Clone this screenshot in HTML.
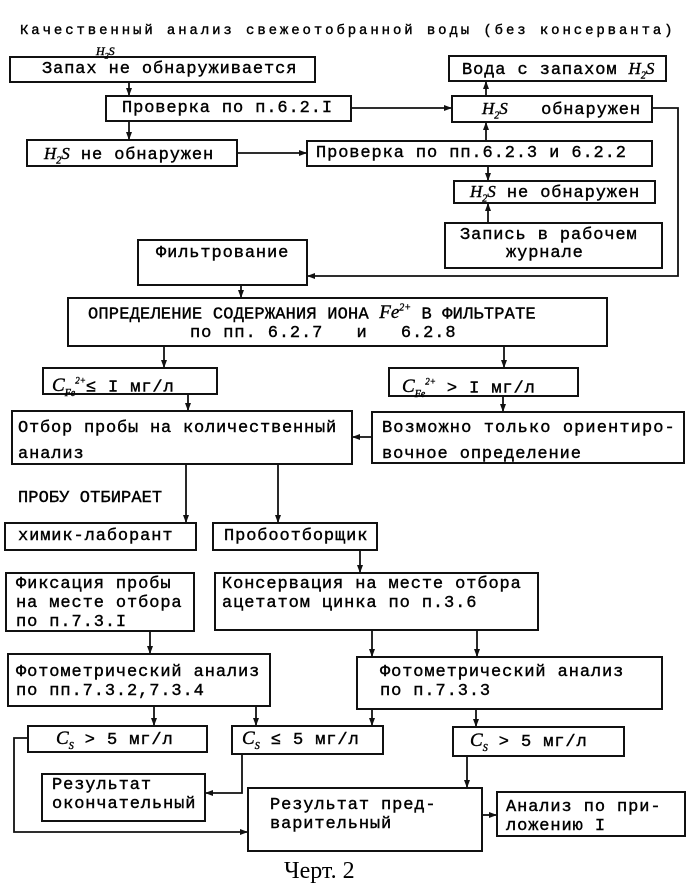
<!DOCTYPE html>
<html><head><meta charset="utf-8"><style>
body{margin:0;background:#fff;}
#c{position:relative;width:688px;height:892px;overflow:hidden;background:#fff;font-family:"Liberation Mono",monospace;color:#000;}
.b{position:absolute;border:2px solid #111;box-sizing:border-box;}
.t{position:absolute;font-size:17px;letter-spacing:0.9px;white-space:nowrap;line-height:18px;-webkit-text-stroke:0.4px #000;}
.i{font-family:"Liberation Serif",serif;font-style:italic;letter-spacing:0;}
svg{position:absolute;left:0;top:0;}
</style></head><body><div id="c">
<svg width="688" height="892">
<defs><marker id="a" markerWidth="8" markerHeight="8" refX="7" refY="4" orient="auto" markerUnits="userSpaceOnUse"><path d="M0,1 L8,4 L0,7 Z" fill="#111"/></marker></defs>
<g stroke="#111" stroke-width="1.8" fill="none">
<line x1="129" y1="82" x2="129" y2="95" marker-end="url(#a)"/>
<line x1="129" y1="122" x2="129" y2="139" marker-end="url(#a)"/>
<line x1="352" y1="108" x2="451" y2="108" marker-end="url(#a)"/>
<line x1="486" y1="95" x2="486" y2="82" marker-end="url(#a)"/>
<line x1="486" y1="140" x2="486" y2="123" marker-end="url(#a)"/>
<line x1="238" y1="153" x2="306" y2="153" marker-end="url(#a)"/>
<line x1="488" y1="167" x2="488" y2="180" marker-end="url(#a)"/>
<line x1="488" y1="222" x2="488" y2="204" marker-end="url(#a)"/>
<polyline points="653,108 678,108 678,276 308,276" marker-end="url(#a)"/>
<line x1="241" y1="286" x2="241" y2="297" marker-end="url(#a)"/>
<line x1="164" y1="347" x2="164" y2="367" marker-end="url(#a)"/>
<line x1="504" y1="347" x2="504" y2="367" marker-end="url(#a)"/>
<line x1="188" y1="395" x2="188" y2="410" marker-end="url(#a)"/>
<line x1="503" y1="397" x2="503" y2="411" marker-end="url(#a)"/>
<line x1="371" y1="437" x2="353" y2="437" marker-end="url(#a)"/>
<line x1="186" y1="465" x2="186" y2="522" marker-end="url(#a)"/>
<line x1="278" y1="465" x2="278" y2="522" marker-end="url(#a)"/>
<line x1="360" y1="551" x2="360" y2="572" marker-end="url(#a)"/>
<line x1="150" y1="632" x2="150" y2="653" marker-end="url(#a)"/>
<line x1="372" y1="631" x2="372" y2="656" marker-end="url(#a)"/>
<line x1="477" y1="631" x2="477" y2="656" marker-end="url(#a)"/>
<line x1="154" y1="707" x2="154" y2="725" marker-end="url(#a)"/>
<line x1="256" y1="707" x2="256" y2="725" marker-end="url(#a)"/>
<line x1="372" y1="710" x2="372" y2="725" marker-end="url(#a)"/>
<line x1="476" y1="710" x2="476" y2="726" marker-end="url(#a)"/>
<polyline points="27,738 14,738 14,832 247,832" marker-end="url(#a)"/>
<polyline points="242,755 242,793 206,793" marker-end="url(#a)"/>
<line x1="467" y1="757" x2="467" y2="787" marker-end="url(#a)"/>
<line x1="483" y1="815" x2="496" y2="815" marker-end="url(#a)"/>
</g></svg>
<div class="t" style="left:20px;top:22px;font-size:14px;letter-spacing:2.9px;">Качественный анализ свежеотобранной воды (без консерванта)</div>

<div class="b" style="left:9px;top:56px;width:307px;height:27px;"></div>
<div class="t i" style="left:96px;top:42px;font-size:12px;">H<sub style="font-size:8px">2</sub>S</div>
<div class="t" style="left:42px;top:61px;">Запах не обнаруживается</div>
<div class="b" style="left:448px;top:55px;width:219px;height:27px;"></div>
<div class="t" style="left:462px;top:60px;">Вода с запахом <span class="i">H<sub style="font-size:10px">2</sub>S</span></div>
<div class="b" style="left:105px;top:95px;width:247px;height:27px;"></div>
<div class="t" style="left:122px;top:100px;">Проверка по п.6.2.I</div>
<div class="b" style="left:451px;top:95px;width:202px;height:28px;"></div>
<div class="t" style="left:482px;top:100px;"><span class="i">H<sub style="font-size:10px">2</sub>S</span>&nbsp;&nbsp; обнаружен</div>
<div class="b" style="left:26px;top:139px;width:212px;height:28px;"></div>
<div class="t" style="left:44px;top:145px;"><span class="i">H<sub style="font-size:10px">2</sub>S</span> не обнаружен</div>
<div class="b" style="left:306px;top:140px;width:347px;height:27px;"></div>
<div class="t" style="left:316px;top:145px;">Проверка по пп.6.2.3 и 6.2.2</div>
<div class="b" style="left:453px;top:180px;width:203px;height:24px;"></div>
<div class="t" style="left:470px;top:183px;"><span class="i">H<sub style="font-size:10px">2</sub>S</span> не обнаружен</div>
<div class="b" style="left:444px;top:222px;width:219px;height:47px;"></div>
<div class="t" style="left:460px;top:227px;">Запись в рабочем</div>
<div class="t" style="left:506px;top:245px;">журнале</div>
<div class="b" style="left:137px;top:239px;width:171px;height:47px;"></div>
<div class="t" style="left:156px;top:245px;">Фильтрование</div>
<div class="b" style="left:67px;top:297px;width:541px;height:50px;"></div>
<div class="t" style="left:88px;top:300px;letter-spacing:0.2px;">ОПРЕДЕЛЕНИЕ СОДЕРЖАНИЯ ИОНА <span class="i" style="font-size:19px">Fe<sup style="font-size:10px">2+</sup></span> В ФИЛЬТРАТЕ</div>
<div class="t" style="left:190px;top:325px;">по пп. 6.2.7&nbsp;&nbsp; и&nbsp;&nbsp; 6.2.8</div>
<div class="b" style="left:42px;top:367px;width:176px;height:28px;"></div>
<div class="t" style="left:52px;top:372px;"><span class="i" style="font-size:19px">C<sub style="font-size:10px">Fe</sub><sup style="font-size:9px">2+</sup></span>≤ I мг/л</div>
<div class="b" style="left:388px;top:367px;width:191px;height:30px;"></div>
<div class="t" style="left:402px;top:373px;"><span class="i" style="font-size:19px">C<sub style="font-size:10px">Fe</sub><sup style="font-size:9px">2+</sup></span> &gt; I мг/л</div>
<div class="b" style="left:11px;top:410px;width:342px;height:55px;"></div>
<div class="t" style="left:18px;top:420px;letter-spacing:0.8px;">Отбор пробы на количественный</div>
<div class="t" style="left:18px;top:446px;">анализ</div>
<div class="b" style="left:371px;top:411px;width:314px;height:53px;"></div>
<div class="t" style="left:382px;top:420px;letter-spacing:1.1px;">Возможно только ориентиро-</div>
<div class="t" style="left:382px;top:446px;">вочное определение</div>
<div class="t" style="left:18px;top:490px;letter-spacing:0.1px;">ПРОБУ ОТБИРАЕТ</div>
<div class="b" style="left:4px;top:522px;width:193px;height:29px;"></div>
<div class="t" style="left:18px;top:528px;">химик-лаборант</div>
<div class="b" style="left:212px;top:522px;width:166px;height:29px;"></div>
<div class="t" style="left:224px;top:528px;">Пробоотборщик</div>
<div class="b" style="left:5px;top:572px;width:190px;height:60px;"></div>
<div class="t" style="left:16px;top:575px;line-height:19px;">Фиксация пробы<br>на месте отбора<br>по п.7.3.I</div>
<div class="b" style="left:214px;top:572px;width:325px;height:59px;"></div>
<div class="t" style="left:222px;top:575px;line-height:19px;">Консервация на месте отбора<br>ацетатом цинка по п.3.6</div>
<div class="b" style="left:7px;top:653px;width:264px;height:54px;"></div>
<div class="t" style="left:16px;top:663px;line-height:19px;">Фотометрический анализ<br>по пп.7.3.2,7.3.4</div>
<div class="b" style="left:356px;top:656px;width:307px;height:54px;"></div>
<div class="t" style="left:380px;top:663px;line-height:19px;">Фотометрический анализ<br>по п.7.3.3</div>
<div class="b" style="left:27px;top:725px;width:181px;height:28px;"></div>
<div class="t" style="left:56px;top:730px;"><span class="i" style="font-size:19px">C<sub style="font-size:10px">S</sub></span> &gt; 5 мг/л</div>
<div class="b" style="left:231px;top:725px;width:153px;height:30px;"></div>
<div class="t" style="left:242px;top:730px;"><span class="i" style="font-size:19px">C<sub style="font-size:10px">S</sub></span> ≤ 5 мг/л</div>
<div class="b" style="left:452px;top:726px;width:173px;height:31px;"></div>
<div class="t" style="left:470px;top:732px;"><span class="i" style="font-size:19px">C<sub style="font-size:10px">S</sub></span> &gt; 5 мг/л</div>
<div class="b" style="left:41px;top:773px;width:165px;height:49px;"></div>
<div class="t" style="left:52px;top:776px;line-height:19px;">Результат<br>окончательный</div>
<div class="b" style="left:247px;top:787px;width:236px;height:65px;"></div>
<div class="t" style="left:270px;top:796px;line-height:19px;">Результат пред-<br>варительный</div>
<div class="b" style="left:496px;top:791px;width:190px;height:46px;"></div>
<div class="t" style="left:506px;top:798px;line-height:19px;">Анализ по при-<br>ложению I</div>
<div class="t" style="left:284px;top:858px;font-family:'Liberation Serif',serif;font-size:24px;letter-spacing:0;line-height:26px;-webkit-text-stroke:0;">Черт. 2</div>
</div></body></html>
